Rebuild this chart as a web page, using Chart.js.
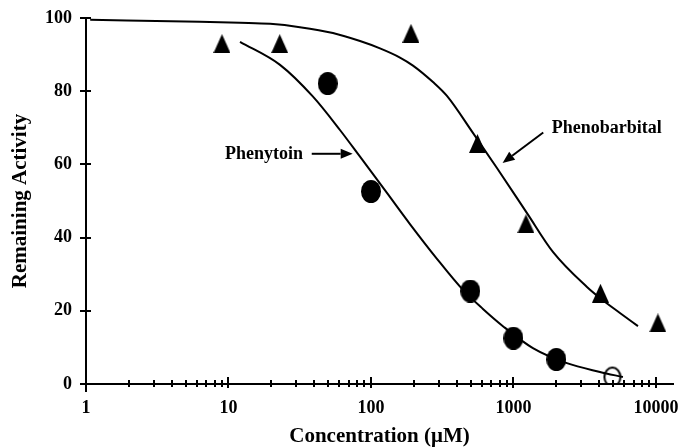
<!DOCTYPE html>
<html>
<head>
<meta charset="utf-8">
<script src="https://cdn.jsdelivr.net/npm/chart.js@4.4.1/dist/chart.umd.min.js"></script>
<style>
  html, body { margin: 0; padding: 0; background: #fff; }
</style>
</head>
<body>
<canvas id="chart" width="680" height="448"></canvas>
<script>
// measured points (concentration in uM, remaining activity in %)
const phenobarbConc = [9, 22.9, 191, 559, 1224, 4080, 10330];
const phenobarbActivity = [93.0, 93.0, 95.8, 65.7, 43.8, 24.8, 16.7];
const phenytoinConc = [49.7, 100, 498, 1000, 2000];
const phenytoinActivity = [82.1, 52.6, 25.4, 12.5, 6.7];
const phenytoinOpenConc = [4950];
const phenytoinOpenActivity = [1.9];

// fitted curves
const phenobarbFitConc = [1.07, 6.3, 12.05, 19.6, 31.7, 54.1, 83.8, 115.7, 159.8, 197.2, 272.4, 341.5, 519.6, 766, 1245, 1893, 3282, 4046, 5590, 7480];
const phenobarbFitActivity = [99.5, 99.0, 98.7, 98.4, 97.5, 95.9, 93.7, 91.7, 89.2, 87.0, 82.5, 78.7, 68.6, 59.0, 46.7, 36.1, 26.5, 23.5, 19.4, 15.8];
const phenytoinFitConc = [12.05, 23.0, 39.2, 60.6, 83.8, 129.5, 187.8, 290.6, 442.4, 611, 844, 1370, 2373, 4046, 5866];
const phenytoinFitActivity = [93.5, 87.2, 78.5, 69.4, 62.1, 52.2, 43.7, 34.2, 25.7, 20.5, 15.8, 9.8, 5.7, 3.3, 1.9];

// axis ticks
const xMajorTicks = [1, 10, 100, 1000, 10000];
const yTicks = [0, 20, 40, 60, 80, 100];

const xTickValues = [];
xMajorTicks.forEach((m, i) => {
  xTickValues.push(m);
  if (i < xMajorTicks.length - 1) {
    for (let k = 2; k <= 9; k++) xTickValues.push(m * k);
  }
});

const FONT = '"Liberation Serif", "Times New Roman", serif';

function toXY(xs, ys) {
  return xs.map((x, i) => ({ x: x, y: ys[i] }));
}

// marker images
function makeTriangle() {
  const c = document.createElement('canvas');
  c.width = 17; c.height = 19;
  const g = c.getContext('2d');
  g.fillStyle = '#000';
  g.beginPath();
  g.moveTo(8.5, 0);
  g.lineTo(17, 19);
  g.lineTo(0, 19);
  g.closePath();
  g.fill();
  return c;
}

function makeDot() {
  const c = document.createElement('canvas');
  c.width = 20; c.height = 23;
  const g = c.getContext('2d');
  g.fillStyle = '#000';
  g.beginPath();
  g.ellipse(10, 11.5, 10, 11.5, 0, 0, Math.PI * 2);
  g.fill();
  return c;
}

function makeRing() {
  const c = document.createElement('canvas');
  c.width = 20; c.height = 23;
  const g = c.getContext('2d');
  g.strokeStyle = '#000';
  g.lineWidth = 2;
  g.beginPath();
  g.ellipse(10, 11.5, 8, 9.5, 0, 0, Math.PI * 2);
  g.stroke();
  return c;
}

// labels with arrows, in data coordinates
const notes = [
  { text: 'Phenytoin', x: 9.45, y: 61.5, from: [38.4, 62.9], to: [74.4, 62.9] },
  { text: 'Phenobarbital', x: 1854, y: 68.6, from: [1619, 68.7], to: [839, 60.4] }
];

function arrow(ctx, x1, y1, x2, y2) {
  const ang = Math.atan2(y2 - y1, x2 - x1);
  const len = 12, half = 5;
  const bx = x2 - Math.cos(ang) * len, by = y2 - Math.sin(ang) * len;
  ctx.beginPath();
  ctx.moveTo(x1, y1);
  ctx.lineTo(bx, by);
  ctx.stroke();
  ctx.beginPath();
  ctx.moveTo(x2, y2);
  ctx.lineTo(bx + Math.sin(ang) * half, by - Math.cos(ang) * half);
  ctx.lineTo(bx - Math.sin(ang) * half, by + Math.cos(ang) * half);
  ctx.closePath();
  ctx.fill();
}

const annotations = {
  id: 'annotations',
  afterDatasetsDraw(chart) {
    const { ctx } = chart;
    const xs = chart.scales.x, ys = chart.scales.y;
    ctx.save();
    ctx.fillStyle = '#000';
    ctx.strokeStyle = '#000';
    ctx.lineWidth = 2;
    ctx.font = 'bold 18px ' + FONT;
    ctx.textAlign = 'left';
    ctx.textBaseline = 'alphabetic';
    notes.forEach(n => {
      ctx.fillText(n.text, xs.getPixelForValue(n.x), ys.getPixelForValue(n.y));
      arrow(ctx,
        xs.getPixelForValue(n.from[0]), ys.getPixelForValue(n.from[1]),
        xs.getPixelForValue(n.to[0]), ys.getPixelForValue(n.to[1]));
    });
    ctx.restore();
  }
};

// tick marks that cross the axis lines
const tickMarks = {
  id: 'tickMarks',
  afterDraw(chart) {
    const { ctx } = chart;
    const xs = chart.scales.x, ys = chart.scales.y;
    const base = Math.round(ys.getPixelForValue(0));
    const left = Math.round(xs.getPixelForValue(1));
    ctx.save();
    ctx.strokeStyle = '#000';
    ctx.lineWidth = 2;
    ctx.beginPath();
    xTickValues.forEach(v => {
      const px = Math.round(xs.getPixelForValue(v));
      const major = xMajorTicks.includes(v);
      ctx.moveTo(px, base - (major ? 7 : 4));
      ctx.lineTo(px, base + (v === 1 ? 8 : major ? 4 : 3));
    });
    yTicks.forEach(v => {
      const py = Math.round(ys.getPixelForValue(v));
      ctx.moveTo(left - 6, py);
      ctx.lineTo(left + 5, py);
    });
    ctx.stroke();
    ctx.restore();
  }
};

new Chart(document.getElementById('chart'), {
  type: 'scatter',
  data: {
    datasets: [
      {
        label: 'Phenobarbital',
        data: toXY(phenobarbConc, phenobarbActivity),
        pointStyle: makeTriangle(),
        pointRadius: 6,
        order: 0
      },
      {
        label: 'Phenytoin',
        data: toXY(phenytoinConc, phenytoinActivity),
        pointStyle: makeDot(),
        pointRadius: 6,
        order: 0
      },
      {
        label: 'Phenytoin (open)',
        data: toXY(phenytoinOpenConc, phenytoinOpenActivity),
        pointStyle: makeRing(),
        pointRadius: 6,
        order: 0
      },
      {
        label: 'Phenobarbital fit',
        data: toXY(phenobarbFitConc, phenobarbFitActivity),
        showLine: true,
        pointRadius: 0,
        borderColor: '#000',
        borderWidth: 2,
        cubicInterpolationMode: 'monotone',
        order: 1
      },
      {
        label: 'Phenytoin fit',
        data: toXY(phenytoinFitConc, phenytoinFitActivity),
        showLine: true,
        pointRadius: 0,
        borderColor: '#000',
        borderWidth: 2,
        cubicInterpolationMode: 'monotone',
        order: 1
      }
    ]
  },
  options: {
    responsive: false,
    animation: false,
    devicePixelRatio: 1,
    layout: { padding: { top: 18, right: 7, left: 0, bottom: 0 } },
    plugins: {
      legend: { display: false },
      tooltip: { enabled: false }
    },
    scales: {
      x: {
        type: 'logarithmic',
        min: 1,
        max: 13180,
        afterBuildTicks: scale => {
          scale.ticks = xTickValues.map(v => ({ value: v }));
        },
        afterFit: scale => {
          scale.height = 64;
          scale.paddingLeft = 0;
          scale.paddingRight = 0;
        },
        grid: { display: false },
        border: { display: true, color: '#000', width: 2 },
        ticks: {
          autoSkip: false,
          maxRotation: 0,
          padding: 6,
          color: '#000',
          font: { family: FONT, size: 18, weight: 'bold' },
          callback: v => (xMajorTicks.includes(v) ? String(v) : '')
        },
        title: {
          display: true,
          text: 'Concentration (\u03bcM)',
          color: '#000',
          font: { family: FONT, size: 21, weight: 'bold', lineHeight: 1.1 },
          padding: { top: 0, bottom: 0 }
        }
      },
      y: {
        min: 0,
        max: 100,
        afterBuildTicks: scale => {
          scale.ticks = yTicks.map(v => ({ value: v }));
        },
        afterFit: scale => {
          scale.width = 86;
          scale.paddingTop = 0;
          scale.paddingBottom = 0;
        },
        grid: { display: false },
        border: { display: true, color: '#000', width: 2 },
        ticks: {
          padding: 6,
          color: '#000',
          font: { family: FONT, size: 18, weight: 'bold' }
        },
        title: {
          display: true,
          text: 'Remaining Activity',
          color: '#000',
          font: { family: FONT, size: 21, weight: 'bold', lineHeight: 1.2 },
          padding: { top: 8, bottom: 0 }
        }
      }
    }
  },
  plugins: [tickMarks, annotations]
});
</script>
</body>
</html>
